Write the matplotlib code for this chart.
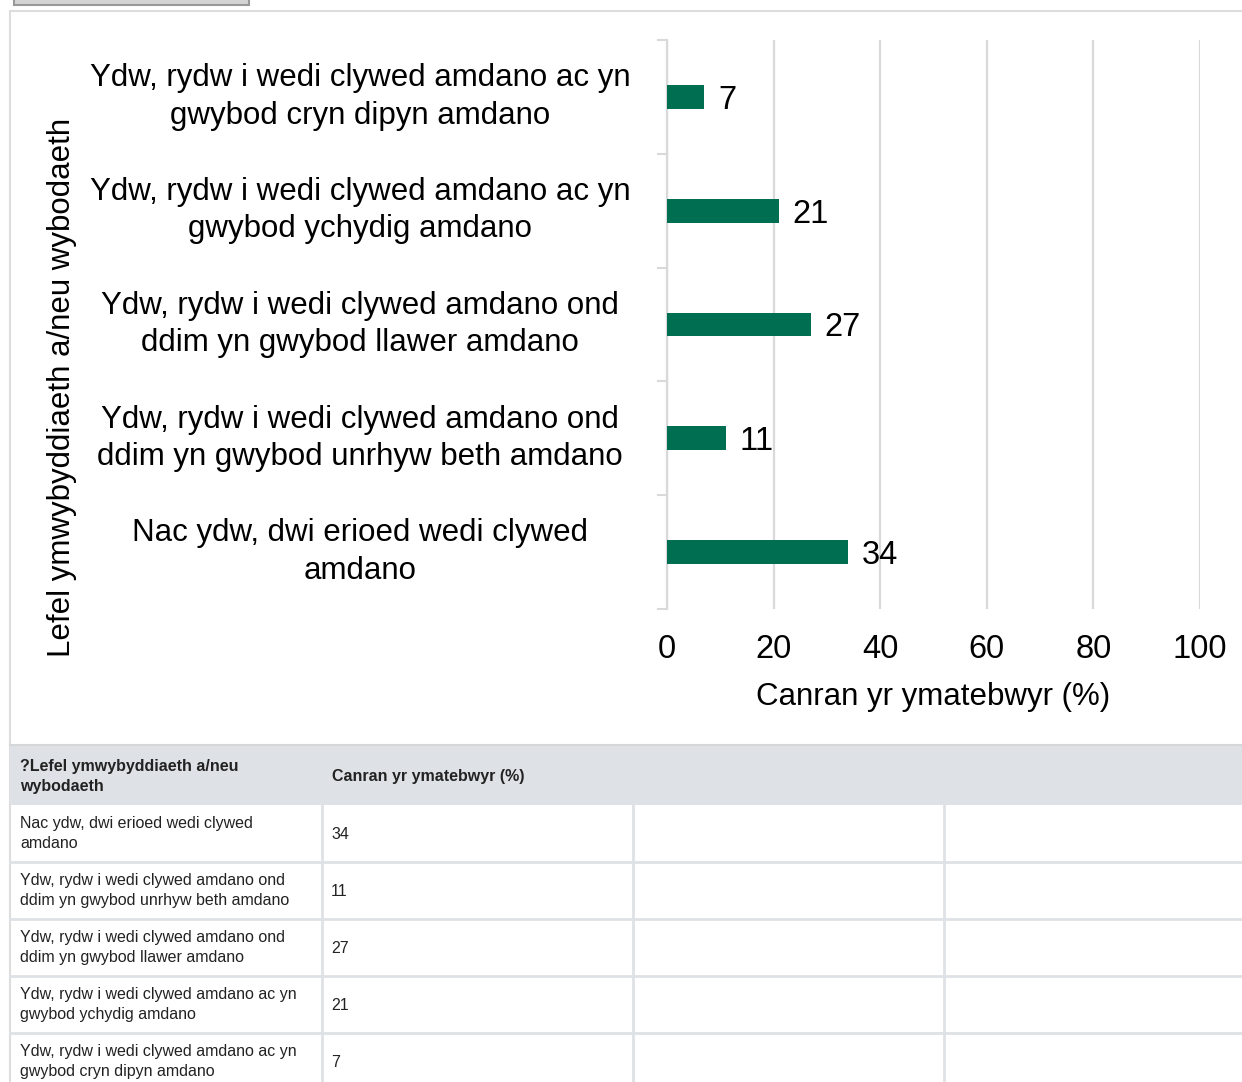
import matplotlib
matplotlib.use("Agg")
import matplotlib.pyplot as plt
from matplotlib.patches import Rectangle

plt.rcParams['font.family'] = ['Liberation Sans', 'DejaVu Sans']

# Responses, in table order (bottom of the chart first)
categories = [
    "Nac ydw, dwi erioed wedi clywed\namdano",
    "Ydw, rydw i wedi clywed amdano ond\nddim yn gwybod unrhyw beth amdano",
    "Ydw, rydw i wedi clywed amdano ond\nddim yn gwybod llawer amdano",
    "Ydw, rydw i wedi clywed amdano ac yn\ngwybod ychydig amdano",
    "Ydw, rydw i wedi clywed amdano ac yn\ngwybod cryn dipyn amdano",
]
table_categories = [
    "Nac ydw, dwi erioed wedi clywed\namdano",
    "Ydw, rydw i wedi clywed amdano ond\nddim yn gwybod unrhyw beth amdano",
    "Ydw, rydw i wedi clywed amdano ond\nddim yn gwybod llawer amdano",
    "Ydw, rydw i wedi clywed amdano ac yn\ngwybod ychydig amdano",
    "Ydw, rydw i wedi clywed amdano ac yn\ngwybod cryn dipyn amdano",
]
values = [34, 11, 27, 21, 7]
x_ticks = [0, 20, 40, 60, 80, 100]
x_title = "Canran yr ymatebwyr (%)"
y_title = "Lefel ymwybyddiaeth a/neu wybodaeth"
table_headers = ["?Lefel ymwybyddiaeth a/neu\nwybodaeth", "Canran yr ymatebwyr (%)"]

W, H = 1242, 1082
BAR = "#006e51"
GRID = "#d9d9d9"
LINE = "#dee2e6"

fig = plt.figure(figsize=(W / 100, H / 100), dpi=100)

# background layer in pixel coordinates: panel frame, button and table
bg = fig.add_axes([0, 0, 1, 1], zorder=0)
bg.set_xlim(0, W)
bg.set_ylim(H, 0)
bg.axis("off")

bg.add_patch(Rectangle((14, -10), 235, 15, facecolor="#d4d4d4", edgecolor="#999999", lw=1.5))
bg.add_patch(Rectangle((10, 11), W, H, facecolor="white", edgecolor="#dddddd", lw=1.5))

# table
head_top, head_bot, row_h = 745, 805, 57
col_x = [10, 322, 633, 944, W]
bg.add_patch(Rectangle((10, head_top), W, head_bot - head_top, facecolor="#dee2e6",
                       edgecolor="none"))
bg.plot([10, W], [head_top, head_top], color="#d4d6d8", lw=1.5)
for i, h in enumerate(table_headers):
    bg.text(col_x[i] + 10, (head_top + head_bot) / 2 + 1.5, h, fontsize=11.5,
            fontweight="bold", va="center", ha="left", color="#222222", linespacing=1.35)

for r, (lab, v) in enumerate(zip(table_categories, values)):
    y0 = head_bot + r * row_h
    y1 = y0 + row_h
    bg.plot([10, W], [y1, y1], color=LINE, lw=2)
    for cx in col_x[1:4]:
        bg.plot([cx, cx], [y0, y1], color=LINE, lw=2)
    yc = y0 + row_h / 2
    bg.text(col_x[0] + 10, yc, lab, fontsize=11.5, va="center", ha="left",
            color="#222222", linespacing=1.35)
    bg.text(col_x[1] + 9, yc + 1, str(v), fontsize=11.5, va="center", ha="left",
            color="#222222")

# chart
ax = fig.add_axes([667 / W, 1 - 609 / H, 533 / W, 569 / H], zorder=2)
ax.patch.set_alpha(0)
ypos = list(range(len(categories)))
bars = ax.barh(ypos, values, height=0.21, color=BAR, zorder=3)
for b, v in zip(bars, values):
    ax.text(v + 2.6, b.get_y() + b.get_height() / 2, str(v), fontsize=23.5,
            va="center_baseline", ha="left", zorder=4)

ax.set_xlim(0, 100)
ax.set_ylim(-0.5, len(categories) - 0.5)
ax.set_xticks(x_ticks)
ax.set_xticklabels([str(t) for t in x_ticks], fontsize=23.5)
ax.tick_params(axis="x", length=0, pad=18)
ax.grid(axis="x", color=GRID, lw=1.6, zorder=0)

ax.set_yticks(ypos)
ax.set_yticklabels(categories, fontsize=22.5, ha="center", va="center", linespacing=1.33)
ax.tick_params(axis="y", length=0, pad=221)
ax.set_yticks([y - 0.5 for y in range(len(categories) + 1)], minor=True)
ax.tick_params(axis="y", which="minor", length=7, width=1.5, color=GRID)

for s in ["top", "right", "bottom"]:
    ax.spines[s].set_visible(False)
ax.spines["left"].set_color(GRID)
ax.spines["left"].set_linewidth(1.6)

ax.set_xlabel(x_title, fontsize=22.5, labelpad=12)
fig.text(62 / W, 1 - 387 / H, y_title, rotation=90, fontsize=22.5, ha="center", va="center")

fig.savefig("out.png", dpi=100)
